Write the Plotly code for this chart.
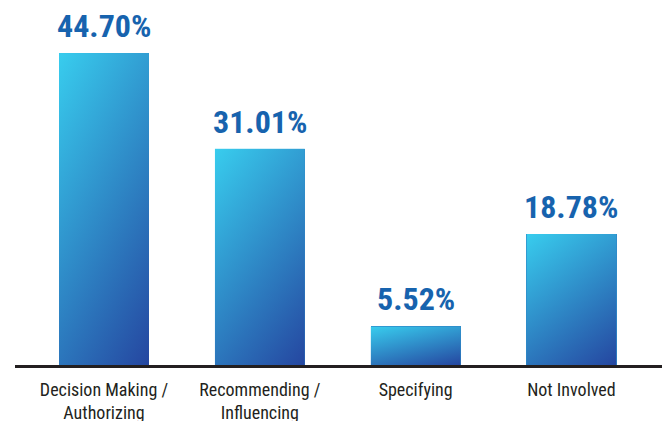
import base64
import plotly.graph_objects as go

categories = ["Decision Making /<br>Authorizing", "Recommending /<br>Influencing", "Specifying", "Not Involved"]
values = [44.70, 31.01, 5.52, 18.78]
value_labels = ["44.70%", "31.01%", "5.52%", "18.78%"]

BAR_W = 0.578
TOP_C = "#38CDEE"
BOT_C = "#2546A0"
FONT = "Roboto Condensed, Liberation Sans Narrow, Arial Narrow, DejaVu Sans Condensed"

svg = (
    '<svg xmlns="http://www.w3.org/2000/svg" width="100" height="100" viewBox="0 0 100 100" preserveAspectRatio="none">'
    '<defs><linearGradient id="g" x1="0" y1="0" x2="0.642" y2="1.193">'
    f'<stop offset="0" stop-color="{TOP_C}"/><stop offset="1" stop-color="{BOT_C}"/>'
    '</linearGradient></defs><rect x="0" y="0" width="100" height="100" fill="url(#g)"/></svg>'
)
src = "data:image/svg+xml;base64," + base64.b64encode(svg.encode()).decode()

xs = list(range(len(categories)))

fig = go.Figure()
fig.add_trace(go.Bar(x=xs, y=values, width=BAR_W, marker=dict(color="#2E89C8", line=dict(width=0)),
                     hoverinfo="skip", showlegend=False))

images = []
annotations = []
for i, v in enumerate(values):
    images.append(dict(source=src, xref="x", yref="y", x=i - BAR_W / 2, y=v, sizex=BAR_W, sizey=v,
                       xanchor="left", yanchor="top", sizing="stretch", layer="above"))
    annotations.append(dict(x=i, y=v, xref="x", yref="y", text=value_labels[i], showarrow=False,
                            yanchor="bottom", yshift=6,
                            font=dict(family=FONT, size=32, color="#1763AE", weight="bold")))

fig.update_layout(
    width=666, height=421,
    margin=dict(l=15, r=4, t=0, b=56),
    paper_bgcolor="white", plot_bgcolor="white",
    images=images, annotations=annotations,
    xaxis=dict(range=[-0.571, 3.581], tickvals=xs, ticktext=categories, showgrid=False, zeroline=False,
               showline=True, linecolor="#231F20", linewidth=3, ticks="", ticklabelstandoff=6,
               automargin=False,
               tickfont=dict(family=FONT, size=18, color="#231F20"),
               fixedrange=True),
    yaxis=dict(range=[0, 52.3], visible=False, fixedrange=True, automargin=False),
    bargap=0,
)

fig.write_html("out.html", config={"displayModeBar": False},
               post_script="document.body.style.margin='0';document.body.style.overflow='hidden';")
